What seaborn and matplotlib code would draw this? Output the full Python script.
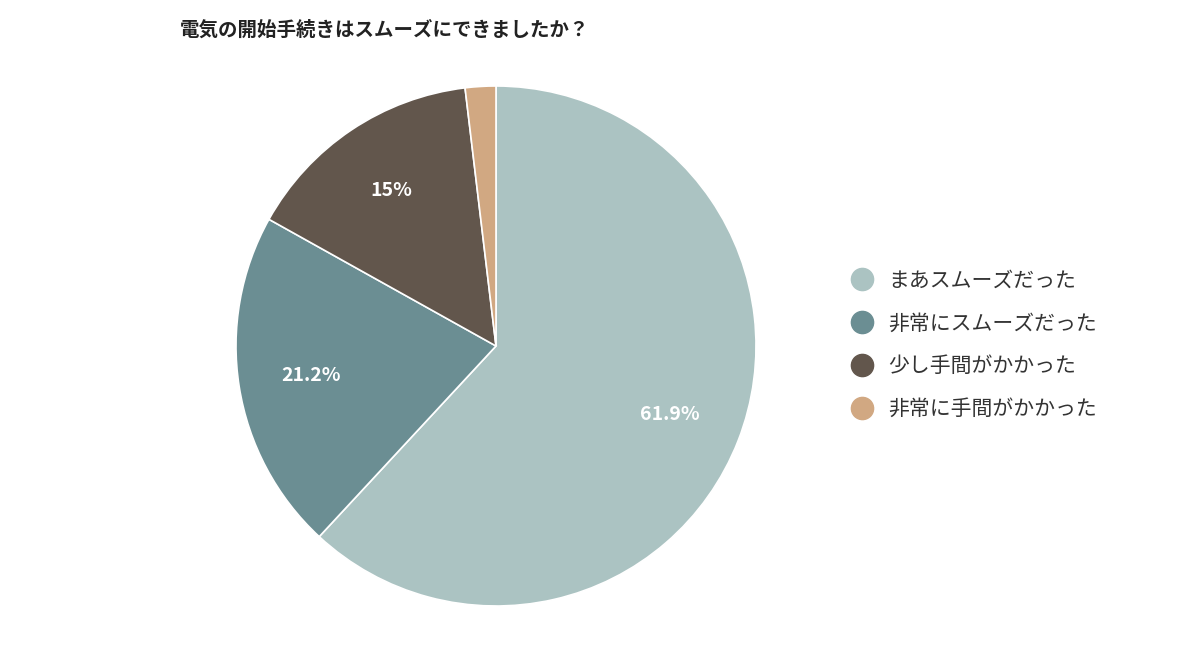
import matplotlib
matplotlib.use("Agg")
import matplotlib.pyplot as plt
import seaborn as sns
from matplotlib.lines import Line2D

labels = ["まあスムーズだった", "非常にスムーズだった", "少し手間がかかった", "非常に手間がかかった"]
values = [61.9, 21.2, 15.0, 1.9]
colors = ["#abc3c2", "#6b8e93", "#62564c", "#d1a882"]

sns.set_theme(style="white")
plt.rcParams['font.family'] = ['Noto Sans CJK JP', 'DejaVu Sans']

fig = plt.figure(figsize=(12, 6.5), dpi=100)
ax = fig.add_axes([236 / 1200, 44 / 650, 520 / 1200, 520 / 650])

palette = sns.color_palette(colors)
wedges, texts, autotexts = ax.pie(
    values, colors=palette, startangle=90, counterclock=False,
    wedgeprops=dict(edgecolor="white", linewidth=1.2),
    autopct=lambda p: f"{round(p, 1):g}%" if p > 5 else "",
    pctdistance=0.72, radius=1.0,
)
for t in autotexts:
    t.set_color("white")
    t.set_fontsize(14)
    t.set_fontweight("bold")
ax.set_xlim(-1.0, 1.0)
ax.set_ylim(-1.0, 1.0)
ax.set_aspect("equal")

fig.text(180 / 1200, 1 - 30 / 650, "電気の開始手続きはスムーズにできましたか？",
         fontsize=14, fontweight="bold", va="center", ha="left", color="#222222")

handles = [Line2D([0], [0], marker="o", linestyle="", markersize=16,
                  markerfacecolor=c, markeredgecolor=c) for c in colors]
fig.legend(handles, labels, loc="center left", bbox_to_anchor=(822 / 1200, 1 - 345 / 650),
           frameon=False, fontsize=15, handletextpad=0.3, labelspacing=1.0,
           labelcolor="#333333")

fig.savefig("out.png", dpi=100)
